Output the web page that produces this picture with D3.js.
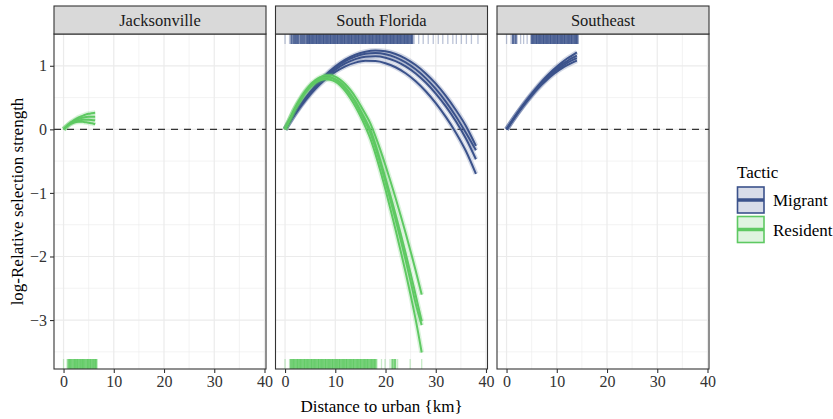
<!DOCTYPE html>
<html>
<head>
<meta charset="utf-8">
<script src="https://cdn.jsdelivr.net/npm/d3@7"></script>
<style>
  body { margin: 0; background: #fff; }
  text { font-family: "Liberation Serif", "Times New Roman", serif; }
</style>
</head>
<body>
<div id="chart"></div>
<script>
const panels = ['Jacksonville', 'South Florida', 'Southeast'];
const tactics = ['Migrant', 'Resident'];
const xTicks = [0, 10, 20, 30, 40];
const yTicks = [1, 0, -1, -2, -3];

// fitted curves (several per group)
const jaxResidentX = [0, 0.5, 1, 1.5, 2, 2.5, 3, 3.5, 4, 4.5, 5, 5.5, 6, 6.3];
const jaxResidentY = [
  [0, 0.04, 0.08, 0.11, 0.14, 0.165, 0.19, 0.205, 0.22, 0.235, 0.245, 0.252, 0.258, 0.26],
  [0, 0.04, 0.075, 0.105, 0.13, 0.15, 0.165, 0.178, 0.187, 0.193, 0.197, 0.199, 0.2, 0.2],
  [0, 0.035, 0.07, 0.095, 0.115, 0.13, 0.14, 0.147, 0.15, 0.151, 0.15, 0.148, 0.145, 0.142],
  [0, 0.035, 0.065, 0.09, 0.105, 0.115, 0.12, 0.12, 0.117, 0.112, 0.105, 0.097, 0.088, 0.08]
];

const sflMigrantX = [0, 2, 4, 6, 8, 10, 12, 14, 16, 18, 20, 22, 24, 26, 28, 30, 32, 34, 36, 38];
const sflMigrantY = [
  [0, 0.258, 0.485, 0.683, 0.851, 0.988, 1.096, 1.174, 1.222, 1.24, 1.228, 1.186, 1.114, 1.012, 0.88, 0.719, 0.527, 0.305, 0.054, -0.26],
  [0, 0.254, 0.479, 0.673, 0.836, 0.97, 1.073, 1.145, 1.188, 1.2, 1.182, 1.133, 1.054, 0.945, 0.806, 0.636, 0.437, 0.206, -0.054, -0.33],
  [0, 0.248, 0.466, 0.653, 0.811, 0.939, 1.037, 1.104, 1.142, 1.149, 1.127, 1.074, 0.991, 0.879, 0.736, 0.563, 0.361, 0.128, -0.145, -0.47],
  [0, 0.242, 0.453, 0.634, 0.784, 0.903, 0.992, 1.05, 1.078, 1.074, 1.041, 0.977, 0.882, 0.756, 0.6, 0.413, 0.196, -0.052, -0.34, -0.70]
];

const sflResidentX = [0, 1, 2, 3, 4, 5, 6, 7, 8, 9, 10, 11, 12, 13, 14, 15, 16, 17, 18, 19, 20, 21, 22, 23, 24, 25, 26, 27.2];
const sflResidentY = [
  [0, 0.17, 0.34, 0.48, 0.60, 0.70, 0.77, 0.82, 0.85, 0.85, 0.83, 0.78, 0.71, 0.62, 0.51, 0.38, 0.24, 0.09, -0.11, -0.33, -0.57, -0.82, -1.08, -1.35, -1.63, -1.92, -2.22, -2.60],
  [0, 0.17, 0.33, 0.47, 0.59, 0.68, 0.75, 0.80, 0.82, 0.82, 0.79, 0.74, 0.66, 0.56, 0.44, 0.30, 0.15, -0.01, -0.24, -0.50, -0.77, -1.05, -1.34, -1.64, -1.95, -2.27, -2.61, -3.02],
  [0, 0.17, 0.33, 0.46, 0.58, 0.67, 0.74, 0.79, 0.81, 0.81, 0.78, 0.72, 0.64, 0.54, 0.42, 0.27, 0.11, -0.06, -0.29, -0.55, -0.83, -1.12, -1.42, -1.73, -2.05, -2.39, -2.74, -3.08],
  [0, 0.16, 0.32, 0.45, 0.57, 0.66, 0.73, 0.77, 0.79, 0.78, 0.75, 0.69, 0.60, 0.49, 0.36, 0.21, 0.04, -0.15, -0.39, -0.66, -0.95, -1.26, -1.58, -1.91, -2.25, -2.61, -2.99, -3.51]
];

const seMigrantX = [0, 1, 2, 3, 4, 5, 6, 7, 8, 9, 10, 11, 12, 13, 14];
const seMigrantY = [
  [0, 0.12, 0.237, 0.35, 0.457, 0.56, 0.658, 0.75, 0.835, 0.915, 0.985, 1.05, 1.11, 1.16, 1.21],
  [0, 0.12, 0.235, 0.345, 0.45, 0.55, 0.645, 0.735, 0.815, 0.89, 0.958, 1.02, 1.07, 1.12, 1.16],
  [0, 0.118, 0.232, 0.34, 0.443, 0.54, 0.632, 0.718, 0.797, 0.868, 0.932, 0.99, 1.04, 1.085, 1.12],
  [0, 0.117, 0.23, 0.336, 0.437, 0.532, 0.62, 0.703, 0.778, 0.846, 0.907, 0.96, 1.005, 1.045, 1.08]
];

// observed locations (rugs)
const jaxResidentRug = [0, 0.7, 1.0, 1.3, 1.6, 2.0, 2.3, 2.6, 2.9, 3.3, 3.6, 3.9, 4.2, 4.6, 4.9, 5.2, 5.5, 5.9, 6.2, 6.5];
const sflMigrantRug = [0, 0.9, 1.3, 1.8, 2.2, 2.6, 3.1, 3.5, 3.9, 4.4, 4.7, 5.0, 5.4, 5.7, 6.1, 6.4, 6.8, 7.1, 7.5, 7.8,
  8.2, 8.5, 8.9, 9.2, 9.6, 9.9, 10.3, 10.6, 11.0, 11.3, 11.7, 12.0, 12.4, 12.7, 13.1, 13.4, 13.8, 14.1, 14.5, 14.8,
  15.2, 15.5, 15.9, 16.2, 16.6, 16.9, 17.3, 17.6, 18.0, 18.3, 18.7, 19.0, 19.4, 19.7, 20.1, 20.4, 20.8, 21.1, 21.5,
  21.8, 22.2, 22.5, 22.9, 23.2, 23.6, 23.9, 24.3, 24.6, 25.0, 25.3, 25.7, 26.6, 27.5, 28.5, 29.5, 30.5, 31.4, 32.4,
  33.4, 34.1, 35.1, 36.1, 37.1, 38.4];
const sflResidentRug = [0, 0.9, 1.2, 1.6, 1.9, 2.3, 2.6, 3.0, 3.3, 3.7, 4.0, 4.4, 4.7, 5.1, 5.4, 5.8, 6.1, 6.5, 6.8, 7.2,
  7.5, 7.9, 8.2, 8.6, 8.9, 9.3, 9.6, 10.0, 10.3, 10.7, 11.0, 11.4, 11.7, 12.1, 12.4, 12.8, 13.1, 13.5, 13.8, 14.2,
  14.5, 14.9, 15.2, 15.6, 15.9, 16.3, 16.6, 17.0, 17.3, 17.7, 18.0, 18.3, 19.2, 19.9, 20.9, 21.4, 21.9, 22.4, 24.9, 27.2];
const seMigrantRug = [0, 0.9, 1.3, 1.8, 2.1, 2.8, 3.4, 4.1, 4.8, 5.1, 5.4, 5.8, 6.1, 6.5, 6.8, 7.2, 7.5, 7.9, 8.2, 8.6,
  8.9, 9.3, 9.6, 10.0, 10.3, 10.7, 11.0, 11.4, 11.7, 12.1, 12.4, 12.8, 13.1, 13.5, 13.8, 14.1];

const w = 833;
const h = 419;
const panelLeft = 54;
const panelW = 212;
const panelGap = 9.5;
const panelTop = 34;
const panelBottom = 369;
const stripTop = 6;
const rugLen = 10;
const colors = {Migrant: '#3b528b', Resident: '#5ec962'};
const font = '"Liberation Serif", "Times New Roman", serif';

const series = [
  {panel: 0, tactic: 'Resident', x: jaxResidentX, ys: jaxResidentY, rug: jaxResidentRug},
  {panel: 1, tactic: 'Migrant', x: sflMigrantX, ys: sflMigrantY, rug: sflMigrantRug},
  {panel: 1, tactic: 'Resident', x: sflResidentX, ys: sflResidentY, rug: sflResidentRug},
  {panel: 2, tactic: 'Migrant', x: seMigrantX, ys: seMigrantY, rug: seMigrantRug}
];

const svg = d3.select('#chart').append('svg')
  .attr('width', w)
  .attr('height', h);

const xScale = d3.scaleLinear().domain([-1.9, 40.3]).range([0, panelW]);
const yScale = d3.scaleLinear().domain([-3.77, 1.5]).range([panelBottom, panelTop]);
const fmt = d => d < 0 ? '\u2212' + Math.abs(d) : String(d);

svg.append('defs').append('clipPath').attr('id', 'clip')
  .append('rect')
  .attr('x', 0).attr('y', panelTop)
  .attr('width', panelW).attr('height', panelBottom - panelTop);

panels.forEach((name, i) => {
  const g = svg.append('g')
    .attr('transform', `translate(${panelLeft + i * (panelW + panelGap)},0)`);

  // grid
  const grid = g.append('g');
  [5, 15, 25, 35].forEach(v => grid.append('line')
    .attr('x1', xScale(v)).attr('x2', xScale(v)).attr('y1', panelTop).attr('y2', panelBottom)
    .attr('stroke', '#ebebeb').attr('stroke-width', 0.6));
  [0.5, -0.5, -1.5, -2.5, -3.5].forEach(v => grid.append('line')
    .attr('x1', 0).attr('x2', panelW).attr('y1', yScale(v)).attr('y2', yScale(v))
    .attr('stroke', '#ebebeb').attr('stroke-width', 0.6));
  xTicks.forEach(v => grid.append('line')
    .attr('x1', xScale(v)).attr('x2', xScale(v)).attr('y1', panelTop).attr('y2', panelBottom)
    .attr('stroke', '#ebebeb').attr('stroke-width', 1.2));
  yTicks.forEach(v => grid.append('line')
    .attr('x1', 0).attr('x2', panelW).attr('y1', yScale(v)).attr('y2', yScale(v))
    .attr('stroke', '#ebebeb').attr('stroke-width', 1.2));

  // reference line at zero
  g.append('line')
    .attr('x1', 0).attr('x2', panelW)
    .attr('y1', yScale(0)).attr('y2', yScale(0))
    .attr('stroke', '#333').attr('stroke-width', 1.3)
    .attr('stroke-dasharray', '7,6');

  const body = g.append('g').attr('clip-path', 'url(#clip)');

  series.filter(s => s.panel === i).forEach(s => {
    const col = colors[s.tactic];
    s.ys.forEach(ys => {
      const pts = s.x.map((xv, k) => [xv, ys[k]]);
      const line = d3.line()
        .x(d => xScale(d[0]))
        .y(d => yScale(d[1]))
        .curve(d3.curveMonotoneX);
      body.append('path').datum(pts)
        .attr('d', line)
        .attr('fill', 'none')
        .attr('stroke', col)
        .attr('stroke-opacity', 0.22)
        .attr('stroke-width', 5);
      body.append('path').datum(pts)
        .attr('d', line)
        .attr('fill', 'none')
        .attr('stroke', col)
        .attr('stroke-width', 2);
    });

    // rug: migrants on top, residents at the bottom
    const top = s.tactic === 'Migrant';
    body.selectAll(null)
      .data(s.rug)
      .enter()
      .append('line')
      .attr('x1', d => xScale(d))
      .attr('x2', d => xScale(d))
      .attr('y1', top ? panelTop : panelBottom - rugLen)
      .attr('y2', top ? panelTop + rugLen : panelBottom)
      .attr('stroke', col)
      .attr('stroke-width', d => s.rug.filter(v => Math.abs(v - d) < 0.6).length > 2 ? 2.4 : 1.3)
      .attr('stroke-opacity', d => s.rug.filter(v => Math.abs(v - d) < 0.6).length > 2 ? 0.85 : 0.35);
  });

  // panel border
  g.append('rect')
    .attr('x', 0).attr('y', panelTop)
    .attr('width', panelW).attr('height', panelBottom - panelTop)
    .attr('fill', 'none').attr('stroke', '#333').attr('stroke-width', 1.1);

  // strip
  g.append('rect')
    .attr('x', 0).attr('y', stripTop)
    .attr('width', panelW).attr('height', panelTop - stripTop)
    .attr('fill', '#d9d9d9').attr('stroke', '#333').attr('stroke-width', 1.1);
  g.append('text')
    .attr('x', panelW / 2).attr('y', (stripTop + panelTop) / 2 + 5.5)
    .attr('text-anchor', 'middle')
    .attr('font-size', 16.5)
    .attr('fill', '#1a1a1a')
    .text(name);

  // x axis
  const xa = g.append('g')
    .attr('transform', `translate(0,${panelBottom})`)
    .call(d3.axisBottom(xScale).tickValues(xTicks).tickSize(4).tickPadding(3));
  xa.select('.domain').remove();
  xa.selectAll('line').attr('stroke', '#333').attr('stroke-width', 1.1);
  xa.selectAll('text').attr('font-size', 16).attr('fill', '#333')
    .style('font-family', font);

  if (i === 0) {
    const ya = g.append('g')
      .call(d3.axisLeft(yScale).tickValues(yTicks).tickFormat(fmt).tickSize(4).tickPadding(3));
    ya.select('.domain').remove();
    ya.selectAll('line').attr('stroke', '#333').attr('stroke-width', 1.1);
    ya.selectAll('text').attr('font-size', 16).attr('fill', '#333')
      .style('font-family', font);
  }
});

// axis titles
svg.append('text')
  .attr('x', panelLeft + (3 * panelW + 2 * panelGap) / 2)
  .attr('y', 412)
  .attr('text-anchor', 'middle')
  .attr('font-size', 17)
  .attr('fill', '#000')
  .text('Distance to urban {km}');
svg.append('text')
  .attr('transform', `translate(23,${(panelTop + panelBottom) / 2}) rotate(-90)`)
  .attr('text-anchor', 'middle')
  .attr('font-size', 17)
  .attr('fill', '#000')
  .text('log-Relative selection strength');

// legend
const legend = svg.append('g').attr('transform', 'translate(737,0)');
legend.append('text')
  .attr('x', 0).attr('y', 178)
  .attr('font-size', 17)
  .text('Tactic');
tactics.forEach((t, i) => {
  const y0 = 187 + i * 29.5;
  legend.append('rect')
    .attr('x', 0.5).attr('y', y0)
    .attr('width', 26.5).attr('height', 26)
    .attr('fill', colors[t]).attr('fill-opacity', 0.2)
    .attr('stroke', colors[t]).attr('stroke-width', 1.6);
  legend.append('line')
    .attr('x1', 0.5).attr('x2', 27)
    .attr('y1', y0 + 13).attr('y2', y0 + 13)
    .attr('stroke', colors[t]).attr('stroke-width', 3.5);
  legend.append('text')
    .attr('x', 36).attr('y', y0 + 19)
    .attr('font-size', 17)
    .text(t);
});
</script>
</body>
</html>
